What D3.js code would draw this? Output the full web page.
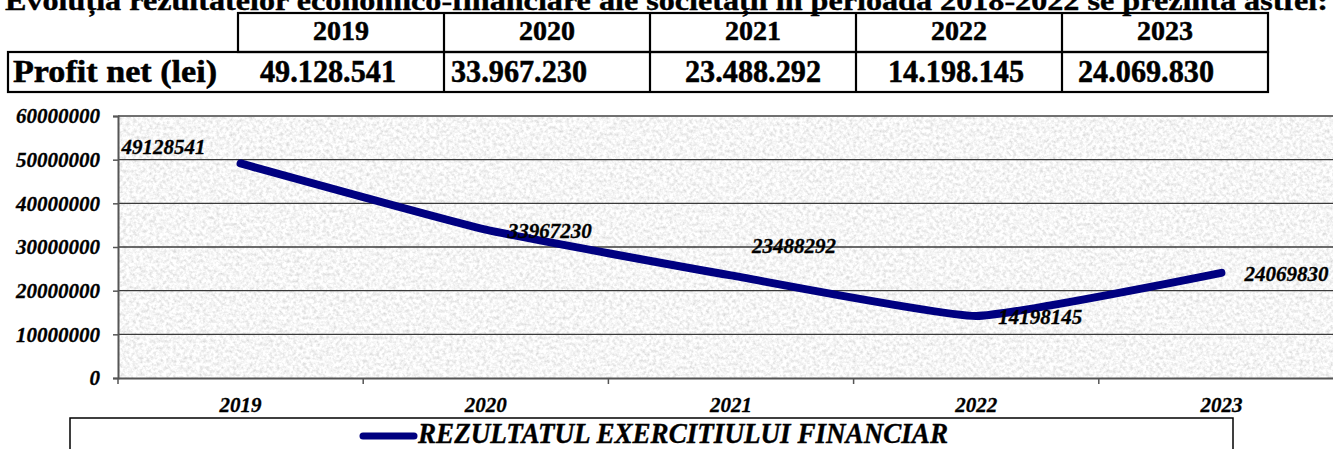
<!DOCTYPE html>
<html>
<head>
<meta charset="utf-8">
<script src="https://cdn.jsdelivr.net/npm/d3@7"></script>
<style>
  html, body { margin: 0; padding: 0; background: #fff; }
  svg { display: block; }
  text { font-family: "Liberation Serif", "Times New Roman", Times, serif; font-weight: bold; }
</style>
</head>
<body>
<svg id="chart" width="1333" height="449"></svg>
<script>
const titleText = "Evoluția rezultatelor economico-financiare ale societății în perioada 2018-2022 se prezintă astfel:";
const rowLabel = "Profit net (lei)";
const categories = ["2019", "2020", "2021", "2022", "2023"];
const profit = [49128541, 33967230, 23488292, 14198145, 24069830];
const yTicks = [0, 10000000, 20000000, 30000000, 40000000, 50000000, 60000000];
const seriesName = "REZULTATUL EXERCITIULUI FINANCIAR";
// layout-only offsets
const labelDx = [-119, 22, 21, 22, 23];
const labelDy = [-9, 8, -22, 8, 8];
const cellDx = [-13, -28, 0, -3, -19];

const svg = d3.select("#chart");

const defs = svg.append("defs");
const f = defs.append("filter").attr("id", "tex")
  .attr("x", 0).attr("y", 0).attr("width", "100%").attr("height", "100%");
f.append("feTurbulence").attr("type", "fractalNoise").attr("baseFrequency", 0.3)
  .attr("numOctaves", 3).attr("seed", 7).attr("result", "n");
f.append("feColorMatrix").attr("type", "matrix")
  .attr("values", "0.6 0 0 0 0.62  0.6 0 0 0 0.62  0.6 0 0 0 0.62  0 0 0 0 1");

// Title (cut at the top edge, as in the reference)
svg.append("text").attr("x", 5).attr("y", 10)
  .attr("font-size", 28).attr("textLength", 1323).attr("lengthAdjust", "spacingAndGlyphs")
  .attr("stroke", "#000").attr("stroke-width", 0.4)
  .text(titleText);

// ---- Table ----
const fmt = d3.formatLocale({ decimal: ",", thousands: ".", grouping: [3], currency: ["", ""] }).format(",d");
const tx = d3.scaleBand().domain(categories).range([238, 1268]);
const rowTop = 13, rowMid = 52, rowBot = 92, firstLeft = 8;
const tbl = svg.append("g").attr("stroke", "#000").attr("stroke-width", 2.2).attr("fill", "none");
tbl.append("rect").attr("x", 238).attr("y", rowTop).attr("width", 1268 - 238).attr("height", rowMid - rowTop);
tbl.append("rect").attr("x", firstLeft).attr("y", rowMid).attr("width", 1268 - firstLeft).attr("height", rowBot - rowMid);
tbl.selectAll("line.col").data(categories.slice(1)).join("line")
  .attr("x1", d => tx(d)).attr("x2", d => tx(d)).attr("y1", rowTop).attr("y2", rowBot);

svg.selectAll("text.hdr").data(categories).join("text").attr("class", "hdr")
  .attr("x", d => tx(d) + tx.bandwidth() / 2).attr("y", 40)
  .attr("text-anchor", "middle").attr("font-size", 28)
  .attr("textLength", 56).attr("lengthAdjust", "spacingAndGlyphs")
  .attr("stroke", "#000").attr("stroke-width", 0.5).text(d => d);
svg.append("text").attr("x", 13).attr("y", 82).attr("font-size", 31)
  .attr("textLength", 204).attr("lengthAdjust", "spacingAndGlyphs")
  .attr("stroke", "#000").attr("stroke-width", 0.5).text(rowLabel);
svg.selectAll("text.val").data(profit).join("text").attr("class", "val")
  .attr("x", (d, i) => tx(categories[i]) + tx.bandwidth() / 2 + cellDx[i]).attr("y", 82)
  .attr("text-anchor", "middle").attr("font-size", 31)
  .attr("textLength", 136).attr("lengthAdjust", "spacingAndGlyphs")
  .attr("stroke", "#000").attr("stroke-width", 0.5)
  .text(d => fmt(d));

// ---- Chart ----
const plotL = 118, plotT = 116, plotB = 378, plotR = 1344;
const x = d3.scaleBand().domain(categories).range([plotL, plotR]);
const y = d3.scaleLinear().domain([0, 60000000]).range([plotB, plotT]);
const cx = d => x(d) + x.bandwidth() / 2;

svg.append("rect").attr("x", plotL).attr("y", plotT).attr("width", plotR - plotL).attr("height", plotB - plotT)
  .attr("filter", "url(#tex)");

svg.append("g").selectAll("line").data(yTicks.filter(t => t > 0 && t < 60000000)).join("line")
  .attr("x1", plotL).attr("x2", plotR).attr("y1", d => y(d)).attr("y2", d => y(d))
  .attr("stroke", "#3a3a3a").attr("stroke-width", 1.3);
svg.append("line").attr("x1", plotL).attr("x2", plotR).attr("y1", y(60000000)).attr("y2", y(60000000))
  .attr("stroke", "#707070").attr("stroke-width", 2);

const yAxis = d3.axisLeft(y).tickValues(yTicks).tickSize(5).tickPadding(13).tickFormat(d3.format("d"));
const yg = svg.append("g").attr("transform", `translate(${plotL},0)`).call(yAxis);
yg.attr("font-family", null);
yg.select(".domain").attr("stroke", "#555").attr("stroke-width", 2);
yg.selectAll(".tick line").attr("stroke", "#555").attr("stroke-width", 1.5);
yg.selectAll(".tick text").attr("font-size", 21).attr("font-style", "italic").attr("fill", "#000")
  .attr("stroke", "#000").attr("stroke-width", 0.3);

const xAxis = d3.axisBottom(x).tickSize(0).tickPadding(19);
const xg = svg.append("g").attr("transform", `translate(0,${plotB})`).call(xAxis);
xg.attr("font-family", null);
xg.select(".domain").attr("stroke", "#555").attr("stroke-width", 2.2);
xg.selectAll(".tick text").attr("font-size", 21).attr("font-style", "italic").attr("fill", "#000")
  .attr("stroke", "#000").attr("stroke-width", 0.3).attr("dy", "0.72em");
svg.append("g").selectAll("line").data(categories).join("line")
  .attr("x1", d => x(d)).attr("x2", d => x(d)).attr("y1", plotB).attr("y2", plotB + 6)
  .attr("stroke", "#555").attr("stroke-width", 1.5);

const line = d3.line().x((d, i) => cx(categories[i])).y(d => y(d)).curve(d3.curveCardinal.tension(0.6));
svg.append("path").datum(profit).attr("d", line)
  .attr("fill", "none").attr("stroke", "#000080").attr("stroke-width", 8)
  .attr("stroke-linecap", "round").attr("stroke-linejoin", "round");

svg.selectAll("text.dl").data(profit).join("text").attr("class", "dl")
  .attr("x", (d, i) => cx(categories[i]) + labelDx[i]).attr("y", (d, i) => y(d) + labelDy[i])
  .attr("font-size", 21).attr("font-style", "italic")
  .attr("stroke", "#000").attr("stroke-width", 0.3).text(d => d3.format("d")(d));

// legend
const lg = svg.append("g");
lg.append("rect").attr("x", 70).attr("y", 418).attr("width", 1163).attr("height", 60)
  .attr("fill", "#fff").attr("stroke", "#000").attr("stroke-width", 1.5);
lg.append("line").attr("x1", 363).attr("x2", 414).attr("y1", 436).attr("y2", 436)
  .attr("stroke", "#000080").attr("stroke-width", 7).attr("stroke-linecap", "round");
lg.append("text").attr("x", 418).attr("y", 443).attr("font-size", 29).attr("font-style", "italic")
  .attr("textLength", 530).attr("lengthAdjust", "spacingAndGlyphs")
  .attr("stroke", "#000").attr("stroke-width", 0.4).text(seriesName);
</script>
</body>
</html>
